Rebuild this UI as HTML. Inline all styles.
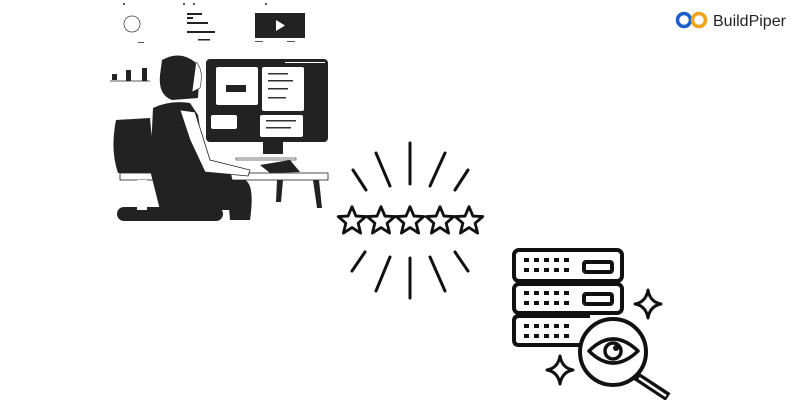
<!DOCTYPE html>
<html><head><style>
html,body{margin:0;padding:0;background:#fff;}
svg{display:block;}
</style></head><body>
<svg width="800" height="400" viewBox="0 0 800 400" xmlns="http://www.w3.org/2000/svg">
<!-- logo -->
<circle cx="684" cy="20" r="6.5" fill="none" stroke="#1d5fc9" stroke-width="3.5"/>
<circle cx="699" cy="20" r="6.5" fill="none" stroke="#f3a21b" stroke-width="3.5"/>
<text x="713" y="26" font-family="Liberation Sans, sans-serif" font-size="16" fill="#222">BuildPiper</text>

<!-- top small icons -->
<circle cx="124" cy="4" r="1" fill="#222"/>
<circle cx="184" cy="4" r="1" fill="#222"/><circle cx="194" cy="4" r="1" fill="#222"/>
<circle cx="266" cy="4" r="1" fill="#222"/>
<circle cx="132" cy="24" r="8" fill="none" stroke="#444" stroke-width="0.8"/>
<rect x="138" y="42" width="6" height="1" fill="#555"/>
<rect x="187" y="13" width="15" height="2" fill="#222"/>
<rect x="187" y="17" width="6" height="2" fill="#222"/>
<rect x="187" y="22" width="21" height="2" fill="#222"/>
<rect x="187" y="31" width="28" height="2" fill="#222"/>
<rect x="198" y="39" width="12" height="1.5" fill="#222"/>
<rect x="255" y="13" width="50" height="25" fill="#222"/>
<polygon points="276,20 276,31 285,25.5" fill="#fff"/>
<rect x="255" y="41" width="8" height="1" fill="#555"/><rect x="287" y="41" width="8" height="1" fill="#555"/>
<!-- bars -->
<rect x="112" y="74" width="5" height="6" fill="#222"/>
<rect x="126" y="70" width="5" height="11" fill="#222"/>
<rect x="142" y="68" width="5" height="13" fill="#222"/>
<line x1="110" y1="81" x2="150" y2="81" stroke="#222" stroke-width="0.8"/>

<!-- monitor -->
<rect x="206" y="59" width="122" height="83" rx="4" fill="#222"/>
<rect x="216" y="67" width="42" height="38" rx="2" fill="#fff"/>
<rect x="226" y="85" width="20" height="7" fill="#222"/>
<rect x="262" y="67" width="42" height="44" rx="2" fill="#fff"/>
<rect x="268" y="73" width="20" height="1.5" fill="#333"/><rect x="268" y="80" width="25" height="1.5" fill="#333"/>
<rect x="268" y="88" width="20" height="1.5" fill="#333"/><rect x="268" y="97" width="18" height="1.5" fill="#333"/>
<rect x="211" y="115" width="26" height="14" rx="2" fill="#fff"/>
<rect x="260" y="115" width="43" height="22" rx="2" fill="#fff"/>
<rect x="266" y="120" width="30" height="1.5" fill="#333"/><rect x="266" y="127" width="25" height="1.5" fill="#333"/>
<rect x="285" y="62" width="40" height="1" fill="#fff"/>
<rect x="263" y="142" width="20" height="12" fill="#222"/>
<!-- desk -->
<rect x="120" y="173" width="208" height="7" fill="#fff" stroke="#222" stroke-width="0.8"/>
<rect x="236" y="158" width="60" height="2" fill="#fff" stroke="#222" stroke-width="0.6"/>
<polygon points="260,165 290,160 300,172 270,173" fill="#222"/>
<polygon points="277,180 283,180 281,202 276,202" fill="#222"/>
<polygon points="313,180 319,180 322,208 317,208" fill="#222"/>
<!-- chair back -->
<path d="M116,120 L150,118 L155,173 L118,173 Q110,150 116,120 Z" fill="#222"/>
<!-- person -->
<path d="M162,60 Q180,50 195,62 Q200,80 198,98 L172,100 Q158,95 160,75 Z" fill="#222"/>
<path d="M153,108 Q170,100 190,103 L198,115 L205,160 L230,170 L240,210 L160,210 L150,170 Z" fill="#222"/>
<path d="M180,110 L195,112 L210,160 L250,170 L248,176 L205,172 L190,140 Z" fill="#fff" stroke="#222" stroke-width="0.8"/>
<path d="M196,62 Q204,70 200,88 L192,92 Z" fill="#fff" stroke="#222" stroke-width="0.6"/>
<path d="M200,180 L245,180 Q255,185 250,220 L230,220 L228,195 L200,195 Z" fill="#222"/>
<rect x="117" y="207" width="106" height="14" rx="7" fill="#222"/>
<rect x="137" y="180" width="10" height="30" fill="#fff"/>

<!-- stars + rays -->
<g stroke="#111" stroke-width="3" stroke-linecap="round">
<line x1="410" y1="143" x2="410" y2="184"/>
<line x1="376" y1="153" x2="390" y2="186"/>
<line x1="353" y1="170" x2="366" y2="190"/>
<line x1="445" y1="153" x2="430" y2="186"/>
<line x1="468" y1="170" x2="455" y2="190"/>
<line x1="410" y1="258" x2="410" y2="298"/>
<line x1="390" y1="257" x2="376" y2="291"/>
<line x1="365" y1="252" x2="352" y2="271"/>
<line x1="430" y1="257" x2="445" y2="291"/>
<line x1="455" y1="252" x2="468" y2="271"/>
</g>
<g fill="#fff" stroke="#111" stroke-width="2.6" stroke-linejoin="round">
<polygon transform="translate(352,221) scale(1.1)" points="0,-13 3.6,-4.5 12.5,-4 5.6,2 7.8,11 0,6 -7.8,11 -5.6,2 -12.5,-4 -3.6,-4.5"/>
<polygon transform="translate(381,221) scale(1.1)" points="0,-13 3.6,-4.5 12.5,-4 5.6,2 7.8,11 0,6 -7.8,11 -5.6,2 -12.5,-4 -3.6,-4.5"/>
<polygon transform="translate(410,221) scale(1.1)" points="0,-13 3.6,-4.5 12.5,-4 5.6,2 7.8,11 0,6 -7.8,11 -5.6,2 -12.5,-4 -3.6,-4.5"/>
<polygon transform="translate(440,221) scale(1.1)" points="0,-13 3.6,-4.5 12.5,-4 5.6,2 7.8,11 0,6 -7.8,11 -5.6,2 -12.5,-4 -3.6,-4.5"/>
<polygon transform="translate(469,221) scale(1.1)" points="0,-13 3.6,-4.5 12.5,-4 5.6,2 7.8,11 0,6 -7.8,11 -5.6,2 -12.5,-4 -3.6,-4.5"/>
</g>

<!-- server -->
<g fill="none" stroke="#111" stroke-width="4" stroke-linejoin="round">
<rect x="514" y="250" width="108" height="31" rx="5"/>
<rect x="514" y="284" width="108" height="29" rx="5"/>
<path d="M590,316 L519,316 Q514,316 514,321 L514,340 Q514,345 519,345 L580,345"/>
<rect x="584" y="262" width="28" height="10" rx="2"/>
<rect x="584" y="294" width="28" height="10" rx="2"/>
<circle cx="613" cy="352" r="33" fill="#fff"/>
<line x1="636" y1="376" x2="668" y2="397" stroke-width="9"/>
<path d="M589,351 Q613,327 638,351 Q613,375 589,351 Z" stroke-width="3.5"/>
<circle cx="613" cy="351" r="8" stroke-width="3.5"/>
</g>
<line x1="639" y1="378" x2="666" y2="396" stroke="#fff" stroke-width="2.5"/>
<g fill="#111">
<rect x="524" y="258" width="5" height="4"/><rect x="534" y="258" width="5" height="4"/><rect x="544" y="258" width="5" height="4"/><rect x="554" y="258" width="5" height="4"/><rect x="564" y="258" width="5" height="4"/>
<rect x="524" y="268" width="5" height="4"/><rect x="534" y="268" width="5" height="4"/><rect x="544" y="268" width="5" height="4"/><rect x="554" y="268" width="5" height="4"/><rect x="564" y="268" width="5" height="4"/>
<rect x="524" y="291" width="5" height="4"/><rect x="534" y="291" width="5" height="4"/><rect x="544" y="291" width="5" height="4"/><rect x="554" y="291" width="5" height="4"/><rect x="564" y="291" width="5" height="4"/>
<rect x="524" y="301" width="5" height="4"/><rect x="534" y="301" width="5" height="4"/><rect x="544" y="301" width="5" height="4"/><rect x="554" y="301" width="5" height="4"/><rect x="564" y="301" width="5" height="4"/>
<rect x="524" y="324" width="5" height="4"/><rect x="534" y="324" width="5" height="4"/><rect x="544" y="324" width="5" height="4"/><rect x="554" y="324" width="5" height="4"/><rect x="564" y="324" width="5" height="4"/>
<rect x="524" y="334" width="5" height="4"/><rect x="534" y="334" width="5" height="4"/><rect x="544" y="334" width="5" height="4"/><rect x="554" y="334" width="5" height="4"/><rect x="564" y="334" width="5" height="4"/>
<circle cx="616" cy="348" r="3"/>
</g>
<g fill="#fff" stroke="#111" stroke-width="3" stroke-linejoin="round">
<path d="M648,290 Q650,302 661,304 Q650,306 648,318 Q646,306 635,304 Q646,302 648,290 Z"/>
<path d="M560,356 Q562,368 573,370 Q562,372 560,384 Q558,372 547,370 Q558,368 560,356 Z"/>
</g>
</svg>
</body></html>
